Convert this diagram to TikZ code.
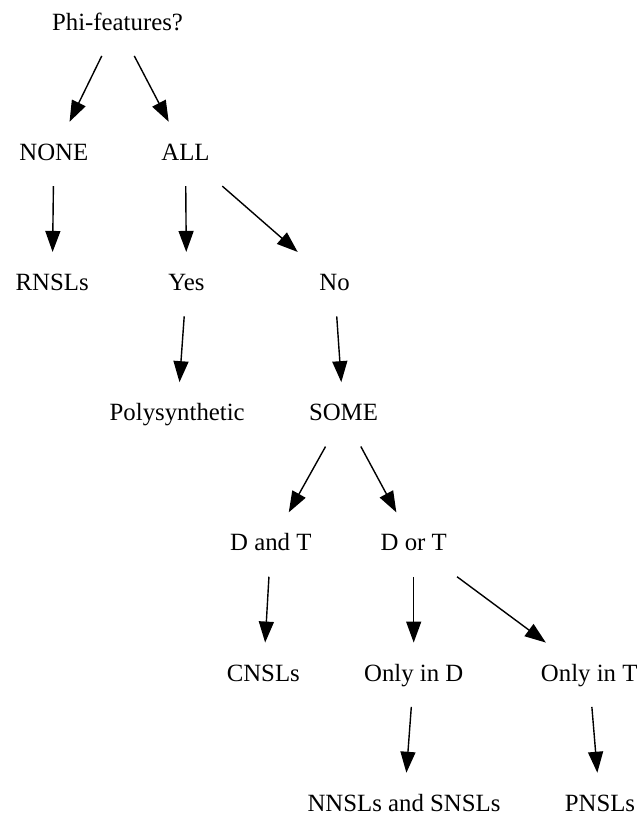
\documentclass[tikz,border=0pt]{standalone}
\usepackage{fontspec}
\setmainfont{Liberation Serif}
\usetikzlibrary{arrows.meta}
\begin{document}
\begin{tikzpicture}[x=1pt,y=-1pt,
  lbl/.style={anchor=base, font=\fontsize{24.8}{30}\selectfont, text height=18pt, text depth=5.5pt,
              minimum height=64pt, minimum width=110pt, inner sep=0pt},
  edge/.style={line width=1.4pt, -{Triangle[length=21pt,width=15pt]}}]
\useasboundingbox (0,0) rectangle (640,814);
\node[lbl] (phi)   at (117.5,30)   {Phi-features?};
\node[lbl] (none)  at (53.8,160.2) {NONE};
\node[lbl] (all)   at (185.5,160.2) {ALL};
\node[lbl] (rnsl)  at (52.2,290.4) {RNSLs};
\node[lbl] (yes)   at (186.5,290.4) {Yes};
\node[lbl] (no)    at (334.5,290.4) {No};
\node[lbl] (poly)  at (177.2,420.6) {Polysynthetic};
\node[lbl] (some)  at (343.5,420.6) {SOME};
\node[lbl] (dandt) at (270.8,550.8) {D and T};
\node[lbl] (dort)  at (413.7,550.8) {D or T};
\node[lbl] (cnsl)  at (263.3,681)   {CNSLs};
\node[lbl] (onlyd) at (413.7,681)   {Only in D};
\node[lbl] (onlyt) at (589.2,681)   {Only in T};
\node[lbl] (nnsl)  at (404,811.2)   {NNSLs and SNSLs};
\node[lbl] (pnsl)  at (600,811.2)   {PNSLs};
\draw[edge] (phi) -- (none);
\draw[edge] (phi) -- (all);
\draw[edge] (none) -- (rnsl);
\draw[edge] (all) -- (yes);
\draw[edge] (all) -- (no);
\draw[edge] (yes) -- (poly);
\draw[edge] (no) -- (some);
\draw[edge] (some) -- (dandt);
\draw[edge] (some) -- (dort);
\draw[edge] (dandt) -- (cnsl);
\draw[edge] (dort) -- (onlyd);
\draw[edge] (dort) -- (onlyt);
\draw[edge] (onlyd) -- (nnsl);
\draw[edge] (onlyt) -- (pnsl);
\end{tikzpicture}
\end{document}
